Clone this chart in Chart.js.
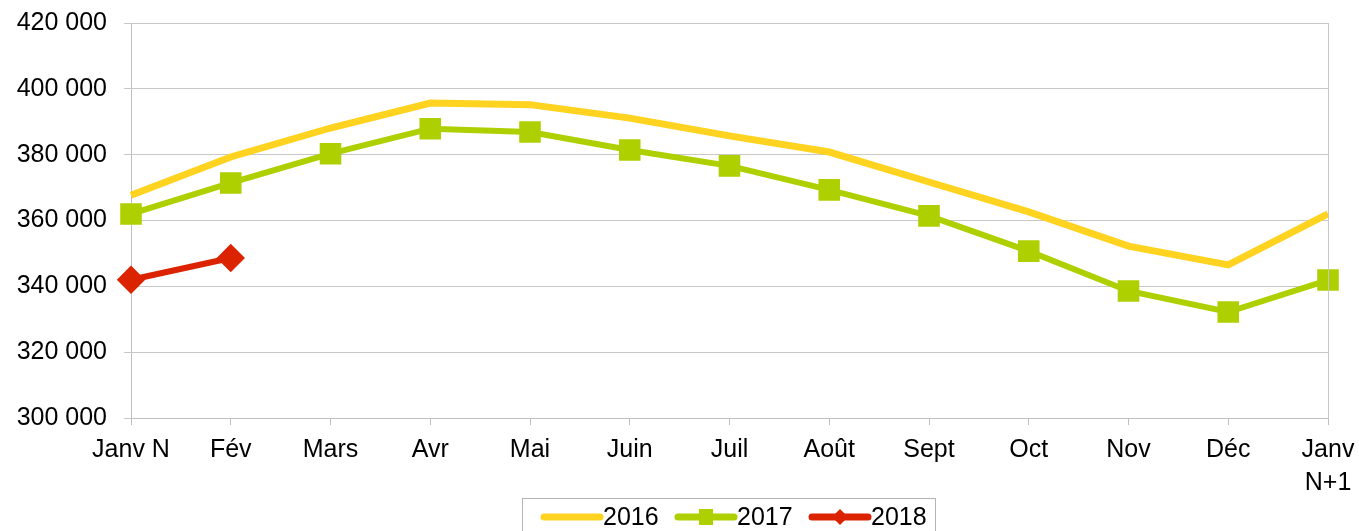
<!DOCTYPE html>
<html>
<head>
<meta charset="utf-8">
<script src="https://cdn.jsdelivr.net/npm/chart.js@4/dist/chart.umd.min.js"></script>
<style>
  html, body { margin: 0; padding: 0; background: #fff; }
  #wrap { width: 1359px; height: 531px; }
</style>
</head>
<body>
<div id="wrap"><canvas id="chart1" width="1359" height="531"></canvas></div>
<script>
const months = ['Janv N', 'Fév', 'Mars', 'Avr', 'Mai', 'Juin', 'Juil', 'Août', 'Sept', 'Oct', 'Nov', 'Déc', ['Janv', 'N+1']]
const values2016 = [367700, 379300, 388100, 395700, 395200, 391100, 385700, 380800, 371700, 362600, 352200, 346500, 362000]
const values2017 = [362000, 371400, 380300, 387900, 386900, 381400, 376600, 369300, 361400, 350700, 338600, 332200, 341900]
const values2018 = [342000, 348600]
const yTicks = [300000, 320000, 340000, 360000, 380000, 400000, 420000]

const FONT = 'Liberation Sans, Arial, sans-serif'

// bordered legend at the bottom, drawn by hand to get line + marker samples
const legendBox = {
    id: 'legendBox',
    afterDraw(chart) {
        const ctx = chart.ctx
        ctx.save()
        ctx.strokeStyle = '#b4b4b4'
        ctx.lineWidth = 1
        ctx.strokeRect(522.5, 498.5, 413, 40)

        // right border of the plot area
        const a = chart.chartArea
        ctx.strokeStyle = '#c8c8c8'
        ctx.beginPath()
        ctx.moveTo(a.right + 0.5, a.top)
        ctx.lineTo(a.right + 0.5, a.bottom)
        ctx.stroke()

        const items = [
            { x: 544, ds: chart.data.datasets[0] },
            { x: 678, ds: chart.data.datasets[1] },
            { x: 812, ds: chart.data.datasets[2] }
        ]
        const y = 517
        items.forEach(it => {
            ctx.strokeStyle = it.ds.borderColor
            ctx.lineWidth = 7
            ctx.lineCap = 'round'
            ctx.beginPath()
            ctx.moveTo(it.x, y)
            ctx.lineTo(it.x + 56, y)
            ctx.stroke()
            ctx.fillStyle = it.ds.borderColor
            const cx = it.x + 28
            if (it.ds.pointStyle === 'rect') {
                ctx.fillRect(cx - 7, y - 8, 14, 16)
            } else if (it.ds.pointStyle === 'rectRot') {
                ctx.beginPath()
                ctx.moveTo(cx, y - 8)
                ctx.lineTo(cx + 8, y)
                ctx.lineTo(cx, y + 8)
                ctx.lineTo(cx - 8, y)
                ctx.closePath()
                ctx.fill()
            }
            ctx.fillStyle = '#000'
            ctx.font = '25px ' + FONT
            ctx.textBaseline = 'middle'
            ctx.textAlign = 'left'
            ctx.fillText(it.ds.label, it.x + 59, y + 1)
        })
        ctx.restore()
    }
}

const data = {
    labels: months,
    datasets: [
        {
            label: '2016',
            data: values2016,
            borderColor: '#ffd320',
            backgroundColor: '#ffd320',
            borderWidth: 7,
            pointRadius: 0,
            tension: 0
        },
        {
            label: '2017',
            data: values2017,
            borderColor: '#aed000',
            backgroundColor: '#aed000',
            borderWidth: 6,
            pointStyle: 'rect',
            pointRadius: 11,
            tension: 0
        },
        {
            label: '2018',
            data: values2018,
            borderColor: '#dc2300',
            backgroundColor: '#dc2300',
            borderWidth: 6,
            pointStyle: 'rectRot',
            pointRadius: 10,
            tension: 0
        }
    ]
}

const options = {
    responsive: false,
    animation: false,
    layout: { padding: { top: 23, right: 31, bottom: 0, left: 0 } },
    plugins: {
        legend: { display: false },
        tooltip: { enabled: false }
    },
    scales: {
        x: {
            offset: false,
            afterFit: scale => {
                scale.height = 113
                scale.paddingLeft = 0
                scale.paddingRight = 0
            },
            grid: { drawOnChartArea: false, color: '#c0c0c0', tickLength: 7 },
            border: { color: '#c0c0c0' },
            ticks: {
                color: '#000',
                font: { family: FONT, size: 25, lineHeight: 1.32 },
                padding: 9,
                maxRotation: 0,
                autoSkip: false
            }
        },
        y: {
            min: 300000,
            max: 420000,
            afterFit: scale => {
                scale.width = 131
                scale.paddingTop = 0
                scale.paddingBottom = 0
            },
            afterBuildTicks: scale => { scale.ticks = yTicks.map(v => ({ value: v })) },
            grid: { color: '#c8c8c8', tickLength: 7 },
            border: { color: '#c0c0c0' },
            ticks: {
                color: '#000',
                font: { family: FONT, size: 25 },
                padding: 17,
                callback: v => String(v).replace(/\B(?=(\d{3})+(?!\d))/g, ' ')
            }
        }
    }
}

new Chart('chart1', { type: 'line', data, options, plugins: [legendBox] })
</script>
</body>
</html>
